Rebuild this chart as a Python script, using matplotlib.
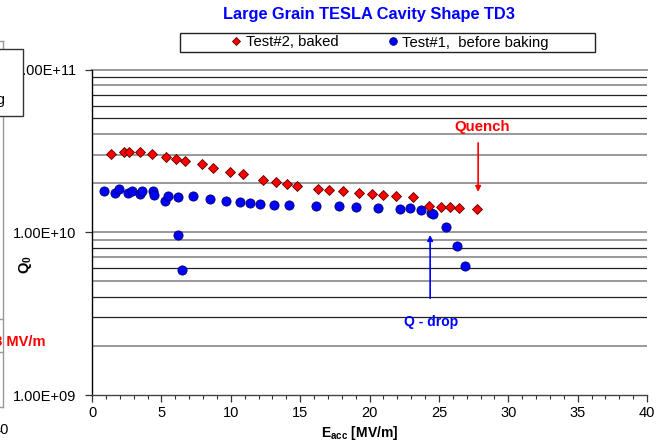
import matplotlib
matplotlib.use('Agg')
import matplotlib.pyplot as plt
from matplotlib.patches import Rectangle
from matplotlib.lines import Line2D
from matplotlib.ticker import FixedLocator, FixedFormatter, NullLocator, MultipleLocator

plt.rcParams['font.family'] = ['Liberation Sans', 'DejaVu Sans']
plt.rcParams['mathtext.fontset'] = 'custom'
plt.rcParams['mathtext.rm'] = 'Liberation Sans'
plt.rcParams['mathtext.bf'] = 'Liberation Sans:bold'
plt.rcParams['mathtext.it'] = 'Liberation Sans:italic'

# ---------------- data ----------------
title = 'Large Grain TESLA Cavity Shape TD3'
baked_label = 'Test#2, baked'
before_label = 'Test#1,  before baking'

baked_E = [1.37, 2.33, 2.67, 3.46, 4.35, 5.31, 6.06, 6.71, 7.95, 8.72, 9.95, 10.86,
           12.33, 13.24, 14.06, 14.8, 16.27, 17.1, 18.12, 19.25, 20.19, 21.0, 21.92,
           23.12, 24.3, 25.14, 25.79, 26.44, 27.78]
baked_Q = [3.03e10, 3.13e10, 3.10e10, 3.10e10, 3.03e10, 2.91e10, 2.83e10, 2.75e10,
           2.61e10, 2.49e10, 2.36e10, 2.27e10, 2.10e10, 2.03e10, 1.98e10, 1.92e10,
           1.84e10, 1.82e10, 1.79e10, 1.75e10, 1.72e10, 1.70e10, 1.68e10, 1.65e10,
           1.45e10, 1.43e10, 1.42e10, 1.41e10, 1.38e10]

before_E = [0.89, 1.66, 1.92, 2.57, 2.86, 3.46, 3.60, 4.42, 4.45, 5.24, 5.46, 6.20,
            7.31, 8.54, 9.64, 10.7, 11.41, 12.11, 13.1, 14.18, 6.18, 6.49,
            16.15, 17.81, 19.06, 20.6, 22.18, 22.93, 23.74, 24.42, 24.61, 25.5,
            26.29, 26.87]
before_Q = [1.79e10, 1.75e10, 1.84e10, 1.75e10, 1.79e10, 1.73e10, 1.80e10, 1.78e10,
            1.69e10, 1.56e10, 1.67e10, 1.65e10, 1.67e10, 1.60e10, 1.55e10, 1.53e10,
            1.51e10, 1.50e10, 1.48e10, 1.47e10, 9.66e9, 5.89e9,
            1.45e10, 1.44e10, 1.42e10, 1.40e10, 1.39e10, 1.40e10, 1.37e10, 1.32e10,
            1.29e10, 1.08e10, 8.27e9, 6.18e9]

x_ticks = [0, 5, 10, 15, 20, 25, 30, 35, 40]
y_ticks = [1e9, 1e10, 1e11]
y_tick_labels = ['1.00E+09', '1.00E+10', '1.00E+11']

quench_text = 'Quench'
qdrop_text = 'Q - drop'

# ---------------- figure ----------------
W, H = 656, 444
fig = plt.figure(figsize=(W / 100, H / 100), dpi=100)
fig.patch.set_facecolor('white')

def fx(px):
    return px / W

def fy(py):
    return 1 - py / H

ax = fig.add_axes([fx(92), fy(395), fx(647) - fx(92), fy(69.5) - fy(395)])
ax.set_yscale('log')
ax.set_xlim(0, 40)
ax.set_ylim(1e9, 1e11)
ax.set_facecolor('white')

# horizontal grid lines at every minor decade step
GRAY, DARK = ('#999999', 1.4), ('#222222', 0.9)
grid_styles = {
    1e9: [None, GRAY, DARK, DARK, GRAY, DARK, GRAY, DARK, GRAY],
    1e10: [GRAY, GRAY, GRAY, GRAY, DARK, DARK, DARK, GRAY, DARK],
}
for dec, styles in grid_styles.items():
    for m, st in enumerate(styles, start=1):
        if st is None:
            continue
        ax.axhline(m * dec, color=st[0], lw=st[1], zorder=1)
ax.axhline(1e11, color=GRAY[0], lw=GRAY[1], zorder=1, clip_on=False)

for s in ['top', 'right']:
    ax.spines[s].set_visible(False)
ax.spines['left'].set_color('black')
ax.spines['left'].set_linewidth(1.0)
ax.spines['bottom'].set_color('#444444')
ax.spines['bottom'].set_linewidth(1.0)

ax.xaxis.set_major_locator(FixedLocator(x_ticks))
ax.xaxis.set_minor_locator(MultipleLocator(1))
ax.yaxis.set_major_locator(FixedLocator(y_ticks))
ax.yaxis.set_major_formatter(FixedFormatter(y_tick_labels))
ax.yaxis.set_minor_locator(NullLocator())
ax.tick_params(axis='x', which='major', direction='out', length=5, width=0.9,
               labelsize=10.5, pad=3, color='#333333')
ax.tick_params(axis='x', which='minor', direction='out', length=3, width=0.8,
               color='#333333')
ax.tick_params(axis='y', which='major', direction='out', length=5, width=0.9,
               labelsize=10.5, pad=6, color='#333333')

ax.plot(baked_E, baked_Q, linestyle='none', marker='D', ms=5.2,
        mfc='#ff0000', mec='#550000', mew=0.6, zorder=4, clip_on=False)
ax.plot(before_E, before_Q, linestyle='none', marker='o', ms=6.6,
        mfc='#0000ff', mec='#000066', mew=0.6, zorder=3, clip_on=False)

# annotations
ax.annotate('', xy=(27.83, 1.77e10), xytext=(27.83, 3.54e10),
            arrowprops=dict(arrowstyle='-|>', color='#ff0000', lw=1.2,
                            mutation_scale=8, shrinkA=0, shrinkB=0), zorder=5)
ax.text(28.1, 4.45e10, quench_text, color='#ff0000', fontsize=10.8,
        fontweight='bold', ha='center', va='center', zorder=5)
ax.annotate('', xy=(24.37, 9.62e9), xytext=(24.37, 3.93e9),
            arrowprops=dict(arrowstyle='-|>', color='#0000ff', lw=1.2,
                            mutation_scale=8, shrinkA=0, shrinkB=0), zorder=5)
ax.text(24.45, 2.8e9, qdrop_text, color='#0000ff', fontsize=10,
        fontweight='bold', ha='center', va='center', zorder=5)

# titles and labels
fig.text(fx(369), fy(14), title, color='#0000ff', fontsize=11.8,
         fontweight='bold', ha='center', va='center')
fig.text(fx(360), fy(433), r'$\mathbf{E}_{\mathbf{acc}}$ [MV/m]', fontsize=10,
         fontweight='bold', ha='center', va='center')
fig.text(fx(25), fy(265), r'$\mathbf{Q}_{\mathbf{0}}$', fontsize=10.5,
         fontweight='bold', ha='center', va='center', rotation=90)

# legend
handles = [Line2D([], [], linestyle='none', marker='D', ms=4.5, mfc='#ff0000',
                  mec='#550000', mew=0.6),
           Line2D([], [], linestyle='none', marker='o', ms=5.5, mfc='#0000ff',
                  mec='#000066', mew=0.6)]
fig.add_artist(Rectangle((fx(180), fy(52)), fx(595) - fx(180), fy(33) - fy(52),
                         transform=fig.transFigure, facecolor='white',
                         edgecolor='#222222', lw=1.0, zorder=1))
fig.legend(handles, [baked_label, before_label], loc='center',
           bbox_to_anchor=(fx(390), fy(42.5)), bbox_transform=fig.transFigure,
           ncol=2, frameon=False, handlelength=0.7, handletextpad=0.3,
           columnspacing=3.3, fontsize=10.7, borderpad=0, borderaxespad=0)

# remnants of the neighbouring chart on the left edge
fig.add_artist(Line2D([fx(2.7), fx(2.7)], [fy(41), fy(407)],
                      transform=fig.transFigure, color='#999999', lw=1.0, zorder=1))
for ty in [41, 319, 352, 407]:
    fig.add_artist(Line2D([fx(0), fx(3)], [fy(ty), fy(ty)],
                          transform=fig.transFigure, color='#999999', lw=1.0, zorder=1))
fig.add_artist(Rectangle((fx(-3), fy(116)), fx(23) - fx(-3), fy(49) - fy(116),
                         transform=fig.transFigure, facecolor='white',
                         edgecolor='#333333', lw=1.0, zorder=2))
fig.text(fx(5.5), fy(100), 'before baking', fontsize=10.5, ha='right', va='center',
         zorder=3)
fig.text(fx(45), fy(341.7), '28 MV/m', fontsize=10.5, fontweight='bold',
         color='#ff0000', ha='right', va='center', zorder=3)
fig.text(fx(9), fy(430), '40', fontsize=10.5, ha='right', va='center', zorder=3)

fig.savefig('out.png', dpi=100)
